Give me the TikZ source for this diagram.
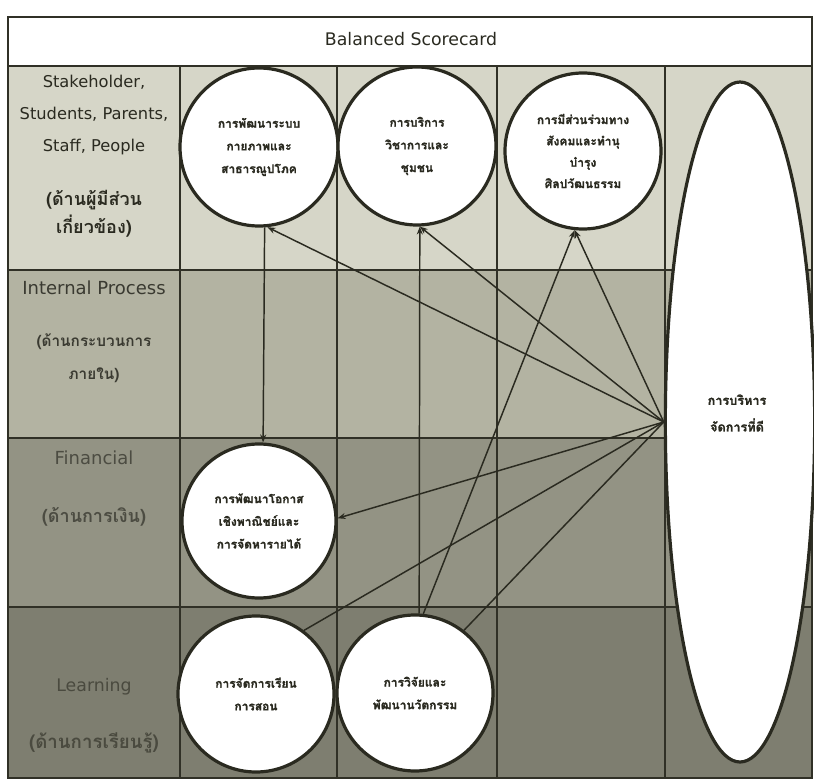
\documentclass[tikz,border=0pt]{standalone}
\usepackage{fontspec}
\setmainfont{DejaVu Sans}
\newfontfamily\thai[Script=Thai]{Loma}
\newfontfamily\thaibold[Script=Thai,FakeBold=1.2]{Loma Bold}
\usetikzlibrary{shapes.geometric,arrows.meta}
\definecolor{rowa}{HTML}{D6D6C8}
\definecolor{rowb}{HTML}{B3B3A2}
\definecolor{rowc}{HTML}{939384}
\definecolor{rowd}{HTML}{7E7E70}
\definecolor{ink}{HTML}{2A2A20}
\definecolor{inkb}{HTML}{3A3A31}
\definecolor{inkc}{HTML}{4C4C42}
\definecolor{inkd}{HTML}{4A4A3F}
\definecolor{gridc}{HTML}{303026}
\begin{document}
\begin{tikzpicture}[x=0.75pt,y=-0.75pt,
  gridline/.style={draw=gridc,line width=0.9pt},
  bubble/.style={circle,draw=ink,fill=white,line width=2.4pt,inner sep=0pt,align=center,
    font={\thaibold\fontsize{9}{17}\selectfont},text=ink},
  conn/.style={draw=ink,line width=1.1pt},
  arr/.style={conn,-{Stealth[length=6pt,width=4.5pt]}},
  thlab/.style={align=center}
]
\useasboundingbox (0,0) rectangle (814,781);
% row backgrounds
\fill[white] (8,17) rectangle (812,66);
\fill[rowa] (8,66) rectangle (812,270);
\fill[rowb] (8,270) rectangle (812,438);
\fill[rowc] (8,438) rectangle (812,607);
\fill[rowd] (8,607) rectangle (812,778);
% grid
\draw[gridline] (8,17) rectangle (812,778);
\foreach \yy in {66,270,438,607} \draw[gridline] (8,\yy) -- (812,\yy);
\foreach \xx in {180,337,497,665} \draw[gridline] (\xx,66) -- (\xx,778);
% title
\node[font={\fontsize{13}{15}\selectfont},text=ink] (title) at (411,39) {Balanced Scorecard};
% left column labels
\node[align=center,font={\fontsize{12.2}{24}\selectfont},text=ink] (s1) at (94,115) {Stakeholder,\\Students, Parents,\\Staff, People};
\node[thlab,font={\thai\bfseries\fontsize{13.5}{21}\selectfont},text=ink] (s2) at (94,214) {(ด้านผู้มีส่วน\\เกี่ยวข้อง)};
\node[font={\fontsize{13.5}{16}\selectfont},text=inkb] (p1) at (94,288) {Internal Process};
\node[thlab,font={\thai\bfseries\fontsize{11.5}{24.5}\selectfont},text=inkb] (p2) at (94,358) {(ด้านกระบวนการ\\ภายใน)};
\node[font={\fontsize{13.5}{16}\selectfont},text=inkc] (f1) at (94,458) {Financial};
\node[thlab,font={\thai\bfseries\fontsize{13.5}{16}\selectfont},text=inkc] (f2) at (94,517) {(ด้านการเงิน)};
\node[font={\fontsize{13}{16}\selectfont},text=inkd] (l1) at (94,687) {Learning};
\node[thlab,font={\thai\bfseries\fontsize{14}{16}\selectfont},text=inkd] (l2) at (94,743) {(ด้านการเรียนรู้)};
% ellipse
\node[ellipse,draw=ink,fill=white,line width=2.4pt,minimum width=112pt,minimum height=510pt,inner sep=0pt] (ell) at (740,422) {};
\node[align=center,font={\thaibold\fontsize{9.5}{20}\selectfont},text=ink] (ellt) at (737,413) {การบริหาร\\จัดการที่ดี};
% circles
\node[bubble,minimum size=118.5pt] (c1) at (259,147) {การพัฒนาระบบ\\กายภาพและ\\สาธารณูปโภค};
\node[bubble,minimum size=118.5pt] (c2) at (417,146) {การบริการ\\วิชาการและ\\ชุมชน};
\node[bubble,minimum size=117pt,font={\thaibold\fontsize{9}{16}\selectfont}] (c3) at (583,151) {การมีส่วนร่วมทาง\\สังคมและทำนุ\\บำรุง\\ศิลปวัฒนธรรม};
\node[bubble,minimum size=115.5pt] (c4) at (259,521) {การพัฒนาโอกาส\\เชิงพาณิชย์และ\\การจัดหารายได้};
\node[bubble,minimum size=117pt] (c5) at (256,694) {การจัดการเรียน\\การสอน};
\node[bubble,minimum size=117pt] (c6) at (415,693) {การวิจัยและ\\พัฒนานวัตกรรม};
% connectors
\coordinate (E) at (ell.west);
\draw[arr] (E) -- (c1.-84);
\draw[arr] (E) -- (c2.-88);
\draw[arr] (E) -- (c3.-96);
\draw[arr] (E) -- (c4.2);
\draw[conn] (E) -- (c5.53);
\draw[conn] (E) -- (c6.52);
\draw[arr] (c1.-86) -- (c4.87);
\draw[arr] (c6.87) -- (c2.-88);
\draw[arr] (c6.84) -- (c3.-96);
\end{tikzpicture}
\end{document}
